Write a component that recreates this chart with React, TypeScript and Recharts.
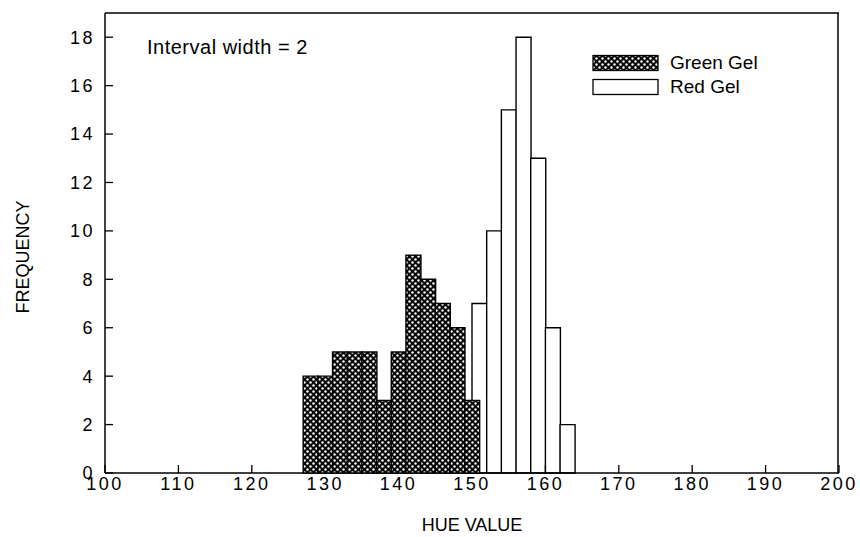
import React from 'react';
import { BarChart, Bar, XAxis, YAxis, Label } from 'recharts';

// bin centres (interval width = 2)
const GREEN_HUE = [128, 130, 132, 134, 136, 138, 140, 142, 144, 146, 148, 150];
const GREEN_FREQ = [4, 4, 5, 5, 5, 3, 5, 9, 8, 7, 6, 3];
const RED_HUE = [151, 153, 155, 157, 159, 161, 163];
const RED_FREQ = [7, 10, 15, 18, 13, 6, 2];

const X_TICKS = [100, 110, 120, 130, 140, 150, 160, 170, 180, 190, 200];
const X_MINOR = [105, 115, 125, 135, 145, 155, 165, 175, 185, 195];
const Y_TICKS = [0, 2, 4, 6, 8, 10, 12, 14, 16, 18];
const Y_MINOR = [1, 3, 5, 7, 9, 11, 13, 15, 17];

const SERIES = [
  { name: 'Green Gel', fill: 'url(#xhatchLegend)' },
  { name: 'Red Gel', fill: '#fff' },
];

const greenData = GREEN_HUE.map((hue, i) => ({ hue, freq: GREEN_FREQ[i] }));
const redData = RED_HUE.map((hue, i) => ({ hue, freq: RED_FREQ[i] }));

const W = 860;
const H = 537;
const FONT = '"Liberation Sans", Arial, Helvetica, sans-serif';
const INK = '#000';
const tickStyle = { fill: INK, fontSize: 18, letterSpacing: 2.5, fontFamily: FONT };
const major = { stroke: INK, strokeWidth: 1.3 };
const minor = { stroke: INK, strokeWidth: 1.2 };
const frame = { stroke: INK, strokeWidth: 1.5 };

const Hatch = ({ id }: { id: string }) => (
  <pattern id={id} width="6" height="6" patternUnits="userSpaceOnUse">
    <rect width="6" height="6" fill="#080808" />
    <circle cx="1.5" cy="1.5" r="1.2" fill="#fff" />
    <circle cx="4.5" cy="4.5" r="1.2" fill="#fff" />
  </pattern>
);

const FreqLabel = (props: any) => {
  const vb = props.viewBox || { x: 0, y: 0, height: 0 };
  const cx = vb.x + 23;
  const cy = vb.y + vb.height / 2 + 14;
  return (
    <text x={cx} y={cy} transform={`rotate(-90 ${cx} ${cy})`} textAnchor="middle" dominantBaseline="central"
      fontSize={18} fill={INK} style={{ fontFamily: FONT }}>
      FREQUENCY
    </text>
  );
};

const LegendBox = () => (
  <div style={{ position: 'absolute', left: 592, top: 51, fontFamily: FONT, fontSize: 19, color: INK }}>
    <svg width={0} height={0} style={{ position: 'absolute' }}>
      <defs><Hatch id="xhatchLegend" /></defs>
    </svg>
    {SERIES.map((s) => (
      <div key={s.name} style={{ display: 'flex', alignItems: 'center', height: 24 }}>
        <svg width={68} height={18} style={{ marginRight: 10 }}>
          <rect x={1} y={1.5} width={65} height={15} fill={s.fill} stroke={INK} strokeWidth={1.3} />
        </svg>
        <span>{s.name}</span>
      </div>
    ))}
  </div>
);

export default function App() {
  return (
    <div style={{ position: 'fixed', left: 0, top: 0, width: W, height: H, background: '#fff', fontFamily: FONT }}>
      {/* back layer: frame, axes and the red gel bars */}
      <div style={{ position: 'absolute', left: 0, top: 0 }}>
        <BarChart width={W} height={H} data={redData} margin={{ top: 13, right: 21, left: 0, bottom: 0 }} barCategoryGap={0}>
          <XAxis dataKey="hue" type="number" domain={[100, 200]} ticks={X_TICKS} height={64}
            tickSize={-8} tickMargin={12} tick={tickStyle} axisLine={frame} tickLine={major}>
            <Label value="HUE VALUE" position="insideBottom" offset={6} fill={INK} fontSize={18} style={{ fontFamily: FONT }} />
          </XAxis>
          <XAxis xAxisId="bMinor" dataKey="hue" type="number" domain={[100, 200]} ticks={X_MINOR} mirror height={1}
            tickSize={4} tick={false} axisLine={false} tickLine={minor} />
          <XAxis xAxisId="top" orientation="top" dataKey="hue" type="number" domain={[100, 200]} ticks={X_TICKS} mirror height={1}
            tickSize={7} tick={false} axisLine={frame} tickLine={major} />
          <XAxis xAxisId="topMinor" orientation="top" dataKey="hue" type="number" domain={[100, 200]} ticks={X_MINOR} mirror height={1}
            tickSize={5} tick={false} axisLine={false} tickLine={minor} />
          <YAxis type="number" domain={[0, 19]} ticks={Y_TICKS} width={105} tickSize={-8} tickMargin={18}
            tick={tickStyle} axisLine={frame} tickLine={major}>
            <Label content={<FreqLabel />} />
          </YAxis>
          <YAxis yAxisId="lMinor" type="number" domain={[0, 19]} ticks={Y_MINOR} mirror width={1}
            tickSize={4} tick={false} axisLine={false} tickLine={minor} />
          <YAxis yAxisId="right" orientation="right" type="number" domain={[0, 19]} ticks={Y_TICKS} mirror width={1}
            tickSize={8} tick={false} axisLine={frame} tickLine={major} />
          <YAxis yAxisId="rMinor" orientation="right" type="number" domain={[0, 19]} ticks={Y_MINOR} mirror width={1}
            tickSize={4} tick={false} axisLine={false} tickLine={minor} />
          <Bar dataKey="freq" name="Red Gel" fill="#fff" stroke={INK} strokeWidth={1.4} isAnimationActive={false} />
        </BarChart>
      </div>

      {/* front layer: the green gel bars, drawn over the red ones */}
      <div style={{ position: 'absolute', left: 0, top: 0 }}>
        <BarChart width={W} height={H} data={greenData} margin={{ top: 13, right: 21, left: 105, bottom: 64 }} barCategoryGap={0}>
          <defs><Hatch id="xhatch" /></defs>
          <XAxis dataKey="hue" type="number" domain={[100, 200]} hide />
          <YAxis type="number" domain={[0, 19]} hide />
          <Bar dataKey="freq" name="Green Gel" fill="url(#xhatch)" stroke={INK} strokeWidth={1.4} isAnimationActive={false} />
        </BarChart>
      </div>

      <LegendBox />
      <div style={{ position: 'absolute', left: 147, top: 36, fontSize: 20, letterSpacing: 0.5, color: INK, whiteSpace: 'nowrap' }}>
        Interval width = 2
      </div>
    </div>
  );
}
